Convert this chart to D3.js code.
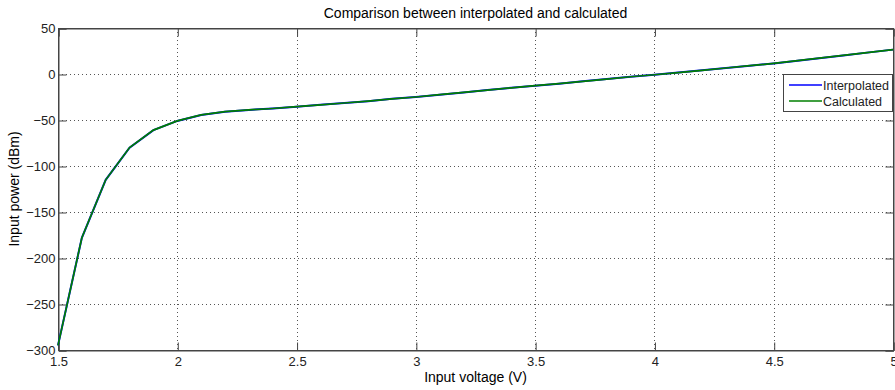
<!DOCTYPE html>
<html>
<head>
<meta charset="utf-8">
<script src="https://cdn.jsdelivr.net/npm/d3@7/dist/d3.min.js"></script>
<style>
  body { margin: 0; background: #fff; }
  svg { display: block; font-family: "Liberation Sans", Arial, sans-serif; }
</style>
</head>
<body>
<svg id="chart" width="895" height="390"></svg>
<script>
const voltage = [1.5,1.6,1.7,1.8,1.9,2.0,2.1,2.2,2.3,2.4,2.5,2.6,2.7,2.8,2.9,3.0,3.1,3.2,3.3,3.4,3.5,3.6,3.7,3.8,3.9,4.0,4.1,4.2,4.3,4.4,4.5,4.6,4.7,4.8,4.9,5.0];
const interpolated = [-295,-178,-115,-80,-61,-51,-44.5,-41,-39,-37.5,-35.5,-33.5,-31.5,-29.5,-27,-25,-22.5,-20,-17.5,-15,-12.7,-10.5,-8,-5.5,-3,-0.8,1.5,4,6.5,9,11.5,14.5,17.5,20.5,23.5,26.5];
const calculated = [-295,-178,-115,-80,-61,-51,-44.5,-41,-39,-37.5,-35.5,-33.5,-31.5,-29.5,-27,-25,-22.5,-20,-17.5,-15,-12.7,-10.5,-8,-5.5,-3,-0.8,1.5,4,6.5,9,11.5,14.5,17.5,20.5,23.5,26.5];
const xTicks = [1.5,2,2.5,3,3.5,4,4.5,5];
const yTicks = [50,0,-50,-100,-150,-200,-250,-300];
const seriesNames = ["Interpolated","Calculated"];
const seriesColors = ["#0000ff","#007f00"];

const svg = d3.select("#chart");
const L = 58, R = 893, T = 28, B = 350;
const x = d3.scaleLinear().domain([1.5,5]).range([L,R]);
const y = d3.scaleLinear().domain([-300,50]).range([B,T]);

// grid
const grid = svg.append("g");
xTicks.forEach(t => {
  if (t === 1.5 || t === 5) return;
  grid.append("line").attr("x1",Math.round(x(t))+0.5).attr("x2",Math.round(x(t))+0.5).attr("y1",T).attr("y2",B)
    .attr("stroke","#555").attr("stroke-width",1).attr("stroke-dasharray","1,3");
});
yTicks.forEach(t => {
  if (t === 50 || t === -300) return;
  grid.append("line").attr("x1",L).attr("x2",R).attr("y1",Math.round(y(t))+0.5).attr("y2",Math.round(y(t))+0.5)
    .attr("stroke","#555").attr("stroke-width",1).attr("stroke-dasharray","1,3");
});

// frame
svg.append("rect").attr("x",L+0.5).attr("y",T+0.5).attr("width",R-L).attr("height",B-T)
  .attr("fill","none").attr("stroke","#444").attr("stroke-width",1);

// axes (ticks inside)
const tl = 8;
const xb = svg.append("g").attr("transform",`translate(0.5,${B+0.5})`)
  .call(d3.axisBottom(x).tickValues(xTicks).tickSize(-tl).tickPadding(6).tickFormat(d3.format("")));
const xt = svg.append("g").attr("transform",`translate(0.5,${T+0.5})`)
  .call(d3.axisTop(x).tickValues(xTicks).tickSize(-tl).tickFormat(""));
const yl = svg.append("g").attr("transform",`translate(${L+0.5},0.5)`)
  .call(d3.axisLeft(y).tickValues(yTicks).tickSize(-tl).tickPadding(3).tickFormat(d3.format("")));
const yr = svg.append("g").attr("transform",`translate(${R+0.5},0.5)`)
  .call(d3.axisRight(y).tickValues(yTicks).tickSize(-tl).tickFormat(""));
[xb,xt,yl,yr].forEach(g => {
  g.select(".domain").attr("stroke","#444");
  g.selectAll(".tick line").attr("stroke","#444");
  g.selectAll("text").attr("fill","#222").style("font-size","13px").style("font-family","Liberation Sans, Arial, sans-serif");
});

// lines
const line = d3.line().x((d,i)=>x(voltage[i])).y(d=>y(d));
svg.append("path").datum(interpolated).attr("d",line).attr("fill","none")
  .attr("stroke",seriesColors[0]).attr("stroke-width",2);
svg.append("path").datum(calculated).attr("d",line).attr("fill","none")
  .attr("stroke",seriesColors[1]).attr("stroke-width",1.7);

// title and labels
svg.append("text").attr("x",(L+R)/2).attr("y",18).attr("text-anchor","middle")
  .style("font-size","14px").attr("fill","#000").text("Comparison between interpolated and calculated");
svg.append("text").attr("x",(L+R)/2).attr("y",382).attr("text-anchor","middle")
  .style("font-size","14px").attr("fill","#000").text("Input voltage (V)");
svg.append("text").attr("transform",`translate(19,${(T+B)/2}) rotate(-90)`).attr("text-anchor","middle")
  .style("font-size","14px").attr("fill","#000").text("Input power (dBm)");

// legend
const lg = svg.append("g");
lg.append("rect").attr("x",783.5).attr("y",74.5).attr("width",109).attr("height",37)
  .attr("fill","#fff").attr("stroke","#444").attr("stroke-width",1);
seriesNames.forEach((n,i) => {
  const yy = 85 + i*16;
  lg.append("line").attr("x1",789).attr("x2",822).attr("y1",yy).attr("y2",yy)
    .attr("stroke",seriesColors[i]).attr("stroke-width",1.5);
  lg.append("text").attr("x",823).attr("y",yy+4.5).style("font-size","12.5px").attr("fill","#222").text(n);
});
</script>
</body>
</html>
